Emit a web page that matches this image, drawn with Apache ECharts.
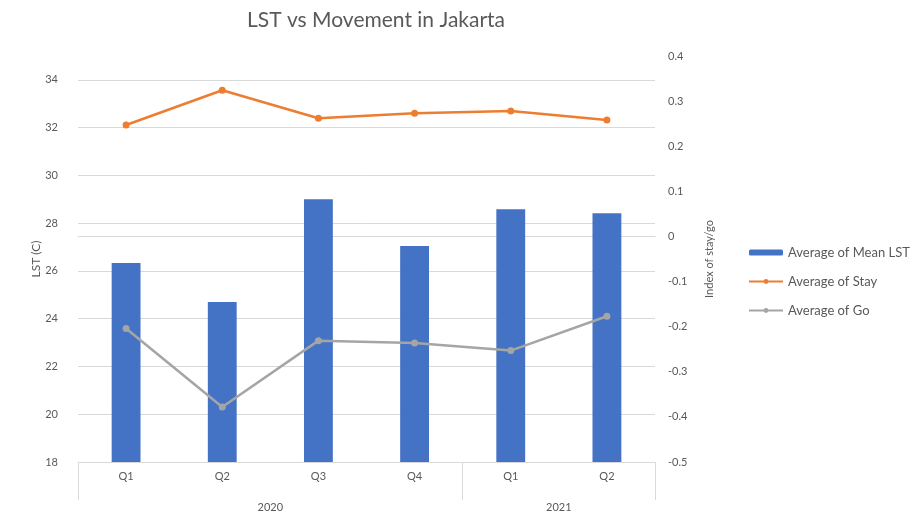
<!DOCTYPE html>
<html>
<head>
<meta charset="utf-8">
<script src="https://cdn.jsdelivr.net/npm/echarts@6/dist/echarts.min.js"></script>
<style>
  html, body { margin: 0; padding: 0; background: #fff; }
  #main { width: 915px; height: 526px; }
</style>
</head>
<body>
<div id="main"></div>
<script>
// data
var quarters = ['Q1', 'Q2', 'Q3', 'Q4', 'Q1', 'Q2'];
var years = ['2020', '2021'];
var yearSpans = [4, 2];
var meanLST = [26.33, 24.7, 29.0, 27.04, 28.58, 28.42];
var stay = [0.247, 0.324, 0.262, 0.273, 0.278, 0.258];
var go = [-0.204, -0.378, -0.231, -0.236, -0.253, -0.177];

// year group boundaries and centres on a 0..n scale
var bounds = [0], mids = [];
yearSpans.forEach(function (s) {
    var start = bounds[bounds.length - 1];
    mids.push(start + s / 2);
    bounds.push(start + s);
});

var txt = '#595959';
var gridColor = '#d9d9d9';
var font = 'Lato';

var option = {
    backgroundColor: '#fff',
    animation: false,
    textStyle: { fontFamily: font },
    title: {
        text: 'LST vs Movement in Jakarta',
        left: 242,
        top: 5,
        textStyle: { color: txt, fontSize: 21, fontWeight: 'normal', fontFamily: font }
    },
    grid: { left: 78, right: 260, top: 56, bottom: 64 },
    legend: {
        orient: 'vertical',
        left: 743,
        top: 241,
        itemWidth: 34,
        itemHeight: 6,
        itemGap: 16,
        textStyle: { color: txt, fontSize: 13, fontFamily: font },
        data: ['Average of Mean LST', 'Average of Stay', 'Average of Go']
    },
    xAxis: [{
        type: 'category',
        data: quarters,
        axisLine: { lineStyle: { color: gridColor } },
        axisTick: { show: false },
        axisLabel: { color: txt, fontSize: 11, margin: 9 }
    }, {
        type: 'value',
        position: 'bottom',
        min: 0,
        max: bounds[bounds.length - 1],
        axisLine: { show: false },
        splitLine: { show: false },
        axisTick: {
            show: true,
            customValues: bounds,
            length: 38,
            lineStyle: { color: gridColor }
        },
        axisLabel: {
            color: txt,
            fontSize: 11,
            margin: 40,
            customValues: mids,
            formatter: function (v) { return years[mids.indexOf(v)]; }
        }
    }],
    yAxis: [{
        type: 'value',
        min: 18,
        max: 35,
        interval: 2,
        name: 'LST (C)',
        nameLocation: 'middle',
        nameRotate: 90,
        nameGap: 36,
        nameMoveOverlap: false,
        nameTextStyle: { color: txt, fontSize: 12 },
        axisLine: { show: false },
        axisTick: { show: false },
        axisLabel: { color: txt, fontSize: 11, margin: 20, showMaxLabel: false },
        splitLine: { showMaxLine: false, lineStyle: { color: gridColor } }
    }, {
        type: 'value',
        position: 'right',
        min: -0.5,
        max: 0.4,
        interval: 0.1,
        name: 'Index of stay/go',
        nameLocation: 'middle',
        nameRotate: 90,
        nameGap: 49,
        nameMoveOverlap: false,
        nameTextStyle: { color: txt, fontSize: 11 },
        axisLine: { show: false },
        axisTick: { show: false },
        splitLine: { show: false },
        axisLabel: {
            color: txt, fontSize: 11, margin: 13,
            formatter: function (v) { return String(+v.toFixed(1)); }
        }
    }],
    series: [{
        name: 'Average of Mean LST',
        type: 'bar',
        data: meanLST,
        barWidth: '30%',
        itemStyle: { color: '#4472C4' }
    }, {
        name: 'Average of Stay',
        type: 'line',
        yAxisIndex: 1,
        data: stay,
        symbol: 'circle',
        symbolSize: 7,
        lineStyle: { color: '#ED7D31', width: 2.5 },
        itemStyle: { color: '#ED7D31' }
    }, {
        name: 'Average of Go',
        type: 'line',
        yAxisIndex: 1,
        data: go,
        symbol: 'circle',
        symbolSize: 7,
        lineStyle: { color: '#A5A5A5', width: 2.5 },
        itemStyle: { color: '#A5A5A5' }
    }]
};

var myChart = echarts.init(document.getElementById('main'));
myChart.setOption(option);
</script>
</body>
</html>
